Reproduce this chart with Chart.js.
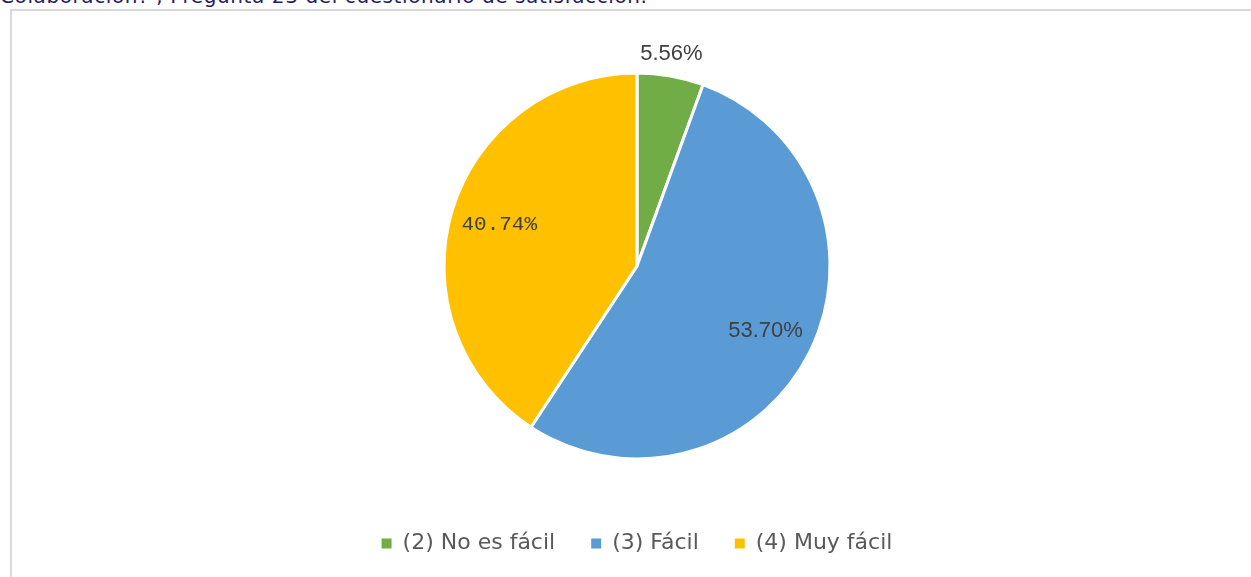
<!DOCTYPE html>
<html>
<head>
<meta charset="utf-8">
<script src="https://cdn.jsdelivr.net/npm/chart.js@4"></script>
<style>
  html, body { margin: 0; padding: 0; background: #fff; overflow: hidden; }
  #wrap { position: relative; width: 1251px; height: 577px; overflow: hidden; }
  #caption {
    position: absolute; left: 0; top: -16px; white-space: nowrap;
    font-family: "DejaVu Sans", sans-serif; font-size: 20px; color: #1f2060;
    letter-spacing: 0.6px;
  }
  #frame {
    position: absolute; left: 10px; top: 9px; width: 1300px; height: 700px;
    border: 2px solid #d9d9d9; box-sizing: border-box;
  }
  #box { position: absolute; left: 0; top: 0; width: 1251px; height: 577px; }
</style>
</head>
<body>
<div id="wrap">
  <div id="caption">Colaboración? , Pregunta 23 del cuestionario de satisfacción.</div>
  <div id="frame"></div>
  <div id="box"><canvas id="pie"></canvas></div>
</div>
<script>
// Datos del gráfico
const categorias = ["(2) No es fácil", "(3) Fácil", "(4) Muy fácil"];
const porcentajes = [5.56, 53.70, 40.74];
const etiquetas = ["5.56%", "53.70%", "40.74%"];
const colores = ["#70ad47", "#5b9bd5", "#ffc000"];

// Etiquetas de datos (como en Excel: una fuera, dos dentro)
const etiquetasPlugin = {
  id: "etiquetas",
  afterDatasetsDraw(chart) {
    const ctx = chart.ctx;
    const arcs = chart.getDatasetMeta(0).data;
    ctx.save();
    ctx.textAlign = "center";
    ctx.textBaseline = "middle";
    ctx.fillStyle = "#404040";
    arcs.forEach(function (arc, i) {
      const mid = (arc.startAngle + arc.endAngle) / 2;
      const factor = i === 0 ? 1.115 : 0.745;
      const r = arc.outerRadius * factor;
      const x = arc.x + Math.cos(mid) * r - (i === 0 ? 3 : 0);
      const y = arc.y + Math.sin(mid) * r;
      ctx.font = i === 2 ? '21px "Liberation Mono", monospace' : '22px "Liberation Sans", Arial, sans-serif';
      ctx.fillText(etiquetas[i], x, y);
    });
    ctx.restore();
  },
};

const basePieLabels = Chart.controllers.pie.overrides.plugins.legend.labels.generateLabels;

new Chart(document.getElementById("pie").getContext("2d"), {
  type: "pie",
  data: {
    labels: categorias,
    datasets: [
      {
        data: porcentajes,
        backgroundColor: colores,
        borderColor: "#ffffff",
        borderWidth: 3,
        hoverOffset: 0,
        radius: 193,
      },
    ],
  },
  options: {
    responsive: true,
    maintainAspectRatio: false,
    animation: false,
    layout: { padding: { top: 35.5, bottom: 12.5, left: 23, right: 0 } },
    plugins: {
      tooltip: { enabled: false },
      legend: {
        position: "bottom",
        labels: {
          boxWidth: 10,
          boxHeight: 10,
          padding: 36,
          color: "#595959",
          font: { size: 22, family: "'DejaVu Sans', sans-serif" },
          generateLabels: function (chart) {
            return basePieLabels(chart).map(function (item) {
              item.lineWidth = 0;
              item.strokeStyle = item.fillStyle;
              return item;
            });
          },
        },
      },
    },
  },
  plugins: [etiquetasPlugin],
});
</script>
</body>
</html>
